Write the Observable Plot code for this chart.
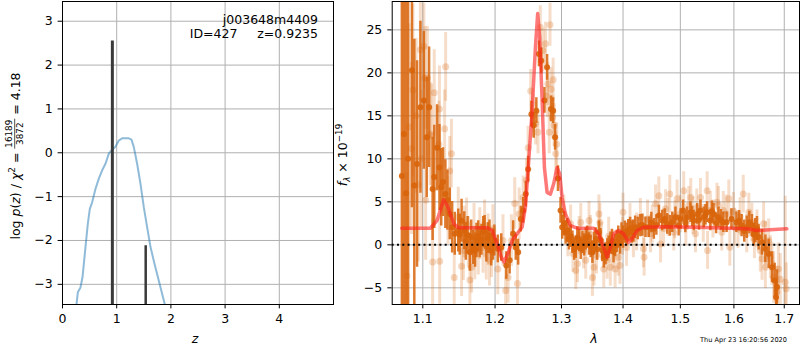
<!DOCTYPE html>
<html><head><meta charset="utf-8">
<script src="https://cdn.jsdelivr.net/npm/d3@7"></script>
<script src="https://cdn.jsdelivr.net/npm/@observablehq/plot@0.6"></script>
<style>
body{margin:0;background:#fff;}
#wrap{position:relative;width:800px;height:350px;font-family:"DejaVu Sans",sans-serif;}
#left,#right{position:absolute;top:0;}
#left{left:0;} #right{left:340px;}
#ov{position:absolute;left:0;top:0;pointer-events:none;font-family:"DejaVu Sans",sans-serif;}
#ov text{white-space:pre;}
</style></head><body>
<div id="wrap"><div id="left"></div><div id="right"></div><svg id="ov" width="800" height="350"></svg></div>
<script>
// ---------- Left panel: log p(z) ----------
const zTicks = [0, 1, 2, 3, 4];
const pTicks = [-3, -2, -1, 0, 1, 2, 3];
const zGrid = [0.258, 0.283, 0.332, 0.369, 0.424, 0.467, 0.504, 0.547, 0.609, 0.670, 0.732, 0.793, 0.855, 0.916, 0.978, 1.039, 1.10, 1.224, 1.273, 1.316, 1.377, 1.439, 1.50, 1.562, 1.624, 1.697, 1.777, 1.888];
const logP = [-3.46, -3.18, -3.07, -2.84, -2.15, -1.62, -1.28, -1.13, -0.82, -0.59, -0.40, -0.25, -0.02, 0.07, 0.14, 0.28, 0.33, 0.33, 0.30, 0.13, -0.25, -0.71, -1.24, -1.70, -2.15, -2.53, -2.92, -3.46];
const spikeZ = [0.92, 1.535];
const spikeTop = [2.55, -2.12];
const spikeW = [3, 2.5];

const objName = "j003648m4409";
const objId = 427;
const zBest = "0.9235";
const chiNum = "16189", chiDen = "3872", chiRed = "4.18";
const stamp = "Thu Apr 23 16:20:56 2020";

// ---------- Right panel: spectrum ----------
const lamTicks = [1.1, 1.2, 1.3, 1.4, 1.5, 1.6, 1.7];
const fTicks = [-5, 0, 5, 10, 15, 20, 25];

// light (alpha) points
const lamL = [1.0791,1.0819,1.0852,1.0870,1.0912,1.0940,1.0968,1.0982,1.1014,1.1028,1.1038,1.1061,1.1098,1.1117,1.1131,1.1153,1.1215,1.1223,1.1226,1.1293,1.1307,1.1340,1.1363,1.1386,1.1424,1.1480,1.1526,1.1550,1.1560,1.1596,1.1620,1.1642,1.1665,1.1700,1.1711,1.1760,1.1781,1.1828,1.1850,1.1874,1.1900,1.1920,1.1950,1.1968,1.2040,1.2115,1.2154,1.2190,1.2239,1.2288,1.2328,1.2354,1.2413,1.2463,1.2488,1.2527,1.2563,1.2601,1.2637,1.2672,1.2712,1.2751,1.2780,1.2787,1.2810,1.2821,1.2836,1.2861,1.2870,1.2885,1.2910,1.2925,1.3037,1.3100,1.3144,1.3180,1.3225,1.3252,1.3280,1.3305,1.3350,1.3385,1.3438,1.3460,1.3493,1.3518,1.3560,1.3599,1.3615,1.3640,1.3679,1.3734,1.3760,1.3787,1.3830,1.3867,1.3920,1.3947,1.3990,1.4000,1.4060,1.4118,1.4176,1.4230,1.4295,1.4350,1.4360,1.4420,1.4471,1.4500,1.4559,1.4617,1.4647,1.4700,1.4735,1.4780,1.4811,1.4882,1.4900,1.4942,1.5000,1.5061,1.5100,1.5153,1.5190,1.5230,1.5276,1.5300,1.5368,1.5420,1.5492,1.5500,1.5552,1.5600,1.5676,1.5705,1.5768,1.5797,1.5850,1.5902,1.5921,1.5990,1.6014,1.6080,1.6120,1.6181,1.6249,1.6290,1.6350,1.6400,1.6451,1.6517,1.6551,1.6583,1.6618,1.6620,1.6684,1.6718,1.6750,1.6784,1.6850,1.6880,1.6919,1.7021,1.7041];
const fluxL = [-3.6,13.7,11.2,18,15,7,22.7,10,23.1,19.4,5.2,19.4,12.9,12.7,-2.0,17.7,11.7,15.8,-1.9,13.5,20.7,4.0,8.6,10.6,-3.8,3.2,-2.5,-0.66,1.5,2.44,0.3,-4.1,-2.6,1.8,-1.05,-0.5,1.3,-0.3,2.2,-1.1,0.6,-1.8,-0.8,1.66,-2.8,0.5,-5.3,-3.8,0.5,4.8,-4.5,3.6,5.5,7.5,11.3,17.9,15.0,14.1,13.1,25.3,22.6,23.4,17.3,18.7,13.1,25.6,18.1,14.8,19.2,13.9,10.6,11.7,3.6,0.8,2.44,-1.0,-3.0,-2.2,1.1,2.6,-0.6,-1.8,2.83,1.2,-3.8,-2.6,-1.2,3.6,2.6,0.4,-2.8,-1.8,1.0,-2.6,-0.5,-2.8,-1.44,-2.4,1.0,3.8,-0.3,2.6,0.7,1.5,3.2,-0.47,-1.44,3.0,1.28,2.4,4.77,5.7,0.1,1.9,4.2,3.2,5.9,1.47,2.9,5.35,3.6,6.3,2.1,4.57,5.5,3.4,1.28,4.3,5.5,2.5,6.3,-0.66,4.0,3.0,4.96,4.57,1.47,4.0,3.6,5.35,-0.28,3.9,2.05,1.8,3.3,5.9,1.28,3.8,2.63,0.6,1.86,-0.66,-1.63,2.44,-2.6,0.2,0.5,-1.44,-2.2,-3.8,-5.5,-2.8,-4.0,-4.35,-5.1];
const errL = [12,12,10,10,9,9,6,8,5,6,7,6,6,6,5,5,5,5,5,4.5,4,4,4,4,4,3.5,3.5,3.5,3,3,3,3,3,3,3,3,3,3,3,3,3,3,3,3,3,3,3,3,3,3,3,3,2.5,2.5,2.5,2.5,2.5,2.5,2.5,2.5,2.5,2.5,2.5,2.5,2.5,2.5,2.5,2.5,2.5,2.5,2.5,2.5,2.2,2.2,2.2,2.2,2.2,2.2,2.2,2.2,2.2,2.2,2.2,2.2,2.2,2.2,2.2,2.2,2.2,2.2,2.2,2.2,2.2,2.2,2.2,2.2,2.2,2.2,2.2,2.2,2.2,2.2,2.2,2.2,2.2,2.2,2.2,2.2,2.2,2.2,2.2,2.2,2.2,2.2,2.2,2.2,2.2,2.2,2.2,2.2,2.2,2.2,2.2,2.2,2.2,2.2,2.2,2.2,2.2,2.2,2.2,2.2,2.2,2.2,2.2,2.2,2.2,2.2,2.2,2.2,2.2,2.2,2.2,2.2,2.2,2.2,2.2,2.2,2.2,2.2,2.2,2.5,2.5,2.5,2.5,2.5,2.5,2.5,2.5,3,3,3,3,10,3];

// dark (binned) points
const lamD = [1.0726,1.0753,1.0780,1.0807,1.0857,1.0888,1.0924,1.0969,1.1014,1.1052,1.1084,1.1131,1.1153,1.1191,1.1223,1.1247,1.1271,1.1303,1.1331,1.1363,1.1396,1.1432,1.1480,1.1500,1.1526,1.1563,1.1585,1.1610,1.1642,1.1660,1.1689,1.1715,1.1735,1.1759,1.1780,1.1805,1.1830,1.1851,1.1875,1.1898,1.1920,1.1944,1.1970,1.1990,1.2040,1.2090,1.2164,1.2213,1.2264,1.2303,1.2339,1.2378,1.2413,1.2452,1.2488,1.2537,1.2572,1.2612,1.2652,1.2687,1.2736,1.2776,1.2836,1.2870,1.2900,1.2945,1.2985,1.3011,1.3037,1.3064,1.3091,1.3117,1.3145,1.3172,1.3200,1.3225,1.3250,1.3278,1.3305,1.3332,1.3360,1.3385,1.3410,1.3438,1.3465,1.3493,1.3520,1.3546,1.3570,1.3599,1.3625,1.3654,1.3680,1.3707,1.3735,1.3760,1.3790,1.3814,1.3840,1.3867,1.3895,1.3920,1.3950,1.3974,1.4000,1.4030,1.4060,1.4088,1.4120,1.4148,1.4175,1.4206,1.4250,1.4295,1.4330,1.4383,1.4441,1.4485,1.4529,1.4573,1.4617,1.4677,1.4720,1.4765,1.4810,1.4854,1.4912,1.4970,1.5005,1.5050,1.5090,1.5123,1.5184,1.5215,1.5245,1.5308,1.5340,1.5368,1.5429,1.5460,1.5491,1.5552,1.5580,1.5613,1.5660,1.5705,1.5750,1.5797,1.5860,1.5952,1.6048,1.6100,1.6149,1.6200,1.6249,1.6300,1.6350,1.6385,1.6416,1.6450,1.6483,1.6551,1.6618,1.6684,1.6752,1.6805,1.6833,1.6853];
const fluxD = [8,12.9,6,10,20.3,6.9,9.4,16.0,16.8,12.5,16.0,6.5,7.9,11.3,9.0,6.7,7.3,5.9,5.2,3.6,2.05,1.3,1.66,1.2,2.8,1.66,0.4,1.1,-0.86,0.9,-0.3,-0.6,0.5,1.0,0.3,0.6,1.5,1.6,-0.2,0.8,1.1,-0.66,0.0,0.5,-0.47,-0.3,-2.4,-1.8,1.3,-0.3,-0.86,3.0,4.0,5.9,8.8,15.2,13.9,15.6,22.2,21.4,16.8,20.65,15.8,15.6,12.5,7.7,4.0,2.05,2.44,1.47,1.66,0.7,1.0,0.3,-0.5,-0.28,0.8,0.5,-0.4,0.3,0.0,0.7,0.9,0.1,-0.2,-0.86,0.2,0.7,-0.5,1.47,0.6,-0.66,-1.4,-1.05,-0.6,-0.28,0.2,0.5,-0.8,-0.08,0.4,0.9,0.2,1.28,0.9,1.47,1.2,1.66,1.9,1.47,1.6,2.05,1.9,2.24,2.3,2.05,2.05,2.6,1.86,2.3,3.4,2.83,3.0,2.44,2.2,2.63,3.2,2.24,3.0,4.0,2.6,3.2,3.8,3.3,2.83,3.6,2.9,4.0,3.2,3.5,3.8,2.83,3.9,3.6,2.5,3.2,2.9,2.63,2.63,3.0,2.63,2.8,2.24,1.6,2.05,2.6,2.24,1.2,1.66,1.9,0.9,0.3,-0.47,-1.05,-2.6,-4.15,-6.1,-4.9];
const errD = [40,35,40,30,16,17,12,10,8,7,7,6,6,5,5,4.5,4,4,3.5,3,3,2.5,2.5,2.4,2.5,2.2,2.2,2.2,2.2,2,2,2,2,1.8,1.8,1.8,1.8,1.8,1.8,1.8,1.8,1.8,1.8,1.8,1.6,1.6,1.6,1.6,1.5,1.5,1.5,1.5,1.5,1.5,1.5,1.5,1.5,1.5,1.5,1.5,1.5,1.5,1.5,1.5,1.5,1.5,1.5,1.4,1.4,1.4,1.4,1.3,1.3,1.3,1.3,1.3,1.3,1.3,1.3,1.3,1.3,1.3,1.3,1.3,1.3,1.3,1.3,1.3,1.3,1.3,1.3,1.3,1.3,1.3,1.3,1.3,1.3,1.3,1.3,1.3,1.3,1.3,1.3,1.3,1.3,1.3,1.3,1.3,1.3,1.3,1.3,1.3,1.3,1.3,1.3,1.2,1.2,1.2,1.2,1.2,1.2,1.2,1.2,1.2,1.2,1.2,1.2,1.2,1.2,1.2,1.2,1.2,1.2,1.2,1.2,1.2,1.2,1.2,1.2,1.2,1.2,1.2,1.2,1.2,1.2,1.2,1.2,1.2,1.2,1.2,1.2,1.2,1.3,1.3,1.3,1.3,1.3,1.3,1.4,1.4,1.5,1.5,1.6,1.7,1.8,2.0,2.0,2.0];

// model
const lamM = [1.0725,1.1100,1.1190,1.1280,1.1330,1.1420,1.1480,1.1890,1.1960,1.2030,1.2090,1.2130,1.2185,1.2250,1.2323,1.2397,1.2447,1.2497,1.2548,1.2598,1.2632,1.2663,1.2700,1.2735,1.2776,1.2827,1.2878,1.2931,1.2972,1.3009,1.3060,1.3140,1.3246,1.3513,1.3595,1.3677,1.3733,1.3788,1.3843,1.3926,1.4010,1.4095,1.4153,1.4238,1.4352,1.4700,1.5304,1.5930,1.6253,1.6450,1.7053];
const fluxM = [1.93,1.93,2.83,5.23,4.57,2.44,2.0,2.0,1.66,0.1,-1.44,-2.0,-1.05,0.5,1.28,2.05,4.37,9.8,15.6,23.0,26.9,24.1,16.8,9.0,6.1,5.9,7.1,9.0,8.26,5.5,3.6,2.24,1.93,1.93,1.28,-0.28,-1.44,-0.28,1.28,1.66,1.28,0.3,0.7,1.66,2.05,2.1,2.05,1.93,1.86,1.66,1.86];

// ---------- build ----------
const FONT = "DejaVu Sans";
const GRID = "#b0b0b0";
const ORANGE = "#d8640a";
const fmtInt = d3.format("d");

const pz = zGrid.map((z, i) => ({z, v: logP[i]}));
const spikes = spikeZ.map((z, i) => ({z, top: spikeTop[i], w: spikeW[i]}));
const yL = [-3.46, 3.45];

const left = Plot.plot({
  width: 340, height: 350,
  marginLeft: 62, marginRight: 7, marginTop: 1, marginBottom: 46,
  style: {fontFamily: FONT, fontSize: "12.5px", color: "black", background: "white", overflow: "visible"},
  x: {domain: [0, 5], ticks: zTicks, tickSize: 4.4, tickPadding: 5.5, label: null, tickFormat: d => String(d)},
  y: {domain: yL, ticks: pTicks, tickSize: 4.4, tickPadding: 5.3, label: null, tickFormat: fmtInt},
  marks: [
    Plot.ruleX(zTicks, {stroke: GRID, strokeWidth: 1}),
    Plot.ruleY(pTicks, {stroke: GRID, strokeWidth: 1}),
    Plot.line(pz, {x: "z", y: "v", stroke: "#1f77b4", strokeOpacity: 0.5, strokeWidth: 2, clip: true}),
    Plot.ruleX(spikes, {x: "z", y1: yL[0], y2: "top", stroke: "#3a3a3a", strokeWidth: "w", clip: true}),
    Plot.frame({stroke: "black"})
  ]
});
document.getElementById("left").appendChild(left);

const light = lamL.map((l, i) => ({l, f: fluxL[i], e: errL[i]}));
const dark = lamD.map((l, i) => ({l, f: fluxD[i], e: errD[i]}));
const model = lamM.map((l, i) => ({l, f: fluxM[i]}));

const right = Plot.plot({
  width: 460, height: 350,
  marginLeft: 51.7, marginRight: 1, marginTop: 1, marginBottom: 46,
  style: {fontFamily: FONT, fontSize: "12.5px", color: "black", background: "white", overflow: "visible"},
  x: {type: "log", domain: [1.0602, 1.7315], ticks: lamTicks, tickSize: 4.4, tickPadding: 5.5, label: null, tickFormat: d => d.toFixed(1)},
  y: {domain: [-6.94, 28.3], ticks: fTicks, tickSize: 4.4, tickPadding: 5.5, label: null, tickFormat: fmtInt},
  marks: [
    Plot.ruleX(lamTicks, {stroke: GRID, strokeWidth: 1}),
    Plot.ruleY(fTicks, {stroke: GRID, strokeWidth: 1}),
    Plot.ruleX(light, {x: "l", y1: d => d.f - d.e, y2: d => d.f + d.e, stroke: ORANGE, strokeOpacity: 0.22, strokeWidth: 3, clip: true}),
    Plot.dot(light, {x: "l", y: "f", r: 3.5, fill: ORANGE, fillOpacity: 0.25, stroke: "none", clip: true}),
    Plot.ruleX(dark, {x: "l", y1: d => d.f - d.e, y2: d => d.f + d.e, stroke: ORANGE, strokeOpacity: 0.85, strokeWidth: 2.5, clip: true}),
    Plot.dot(dark, {x: "l", y: "f", r: 3, fill: ORANGE, fillOpacity: 0.9, stroke: "none", clip: true}),
    Plot.line(model, {x: "l", y: "f", stroke: "#ff2020", strokeOpacity: 0.6, strokeWidth: 3.5, clip: true}),
    Plot.ruleY([0], {stroke: "black", strokeWidth: 2, strokeDasharray: "2,3.3"}),
    Plot.frame({stroke: "black"})
  ]
});
document.getElementById("right").appendChild(right);

// ---------- overlay text ----------
const ov = d3.select("#ov");
const FS = 12.5, SM = 8.8;
ov.append("text").attr("x", 318).attr("y", 24).attr("text-anchor", "end").attr("font-size", FS).text(objName);
ov.append("text").attr("x", 318).attr("y", 38).attr("text-anchor", "end").attr("font-size", FS).text(`ID=${objId}     z=${zBest}`);

ov.append("text").attr("x", 195).attr("y", 343).attr("text-anchor", "middle").attr("font-size", FS).attr("font-style", "italic").text("z");
ov.append("text").attr("x", 594).attr("y", 343).attr("text-anchor", "middle").attr("font-size", FS).attr("font-style", "italic").text("λ");
ov.append("text").attr("x", 787).attr("y", 342).attr("text-anchor", "end").attr("font-size", 6.6).text(stamp);

// left y label with fraction
{
  const outer = ov.append("g").attr("transform", "translate(20,156) rotate(-90)");
  const g = outer.append("g");
  const t1 = g.append("text").attr("font-size", FS).attr("x", 0).attr("y", 0);
  t1.append("tspan").text("log ");
  t1.append("tspan").attr("font-style", "italic").text("p");
  t1.append("tspan").text("(");
  t1.append("tspan").attr("font-style", "italic").text("z");
  t1.append("tspan").text(") / ");
  t1.append("tspan").attr("font-style", "italic").text("χ");
  t1.append("tspan").attr("font-size", SM).attr("dy", -5).text("2");
  t1.append("tspan").attr("dy", 5).text(" = ");
  const w1 = t1.node().getComputedTextLength();
  const num = g.append("text").attr("font-size", SM).attr("text-anchor", "middle").attr("y", -8).text(chiNum);
  const den = g.append("text").attr("font-size", SM).attr("text-anchor", "middle").attr("y", 3).text(chiDen);
  const fw = Math.max(num.node().getComputedTextLength(), den.node().getComputedTextLength()) + 2;
  num.attr("x", w1 + fw / 2);
  den.attr("x", w1 + fw / 2);
  g.append("line").attr("x1", w1).attr("x2", w1 + fw).attr("y1", -5.3).attr("y2", -5.3).attr("stroke", "black").attr("stroke-width", 0.7);
  const t3 = g.append("text").attr("font-size", FS).attr("x", w1 + fw).attr("y", 0).text(" = " + chiRed);
  const total = w1 + fw + t3.node().getComputedTextLength();
  g.attr("transform", `translate(${-total / 2},0)`);
}
// right y label
{
  const g = ov.append("g").attr("transform", "translate(347,155) rotate(-90)");
  const t = g.append("text").attr("text-anchor", "middle").attr("font-size", FS);
  t.append("tspan").attr("font-style", "italic").text("f");
  t.append("tspan").attr("font-style", "italic").attr("font-size", SM).attr("dy", 2.5).text("λ");
  t.append("tspan").attr("dy", -2.5).text(" × 10");
  t.append("tspan").attr("font-size", SM).attr("dy", -5).text("−19");
}
</script>
</body></html>
